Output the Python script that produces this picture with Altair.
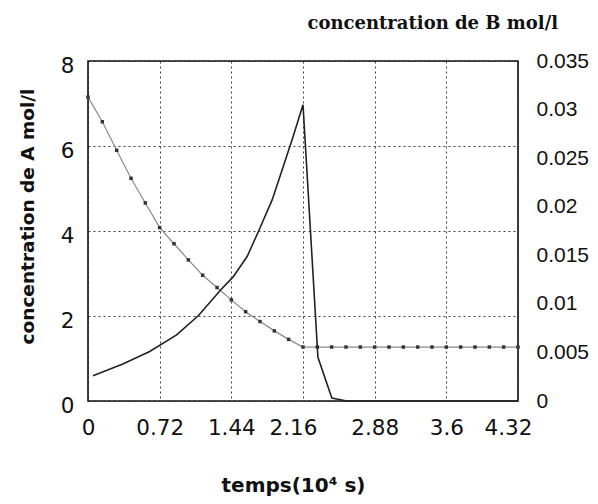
import altair as alt
import pandas as pd

# --- data ---
x_ticks = [0, 0.72, 1.44, 2.16, 2.88, 3.6, 4.32]
left_ticks = [0, 2, 4, 6, 8]
right_ticks = [0, 0.005, 0.01, 0.015, 0.02, 0.025, 0.03, 0.035]

# concentration of A (left axis), sampled every 0.144 (10^4 s)
t_A = [0.0, 0.144, 0.288, 0.432, 0.576, 0.72, 0.864, 1.008, 1.152, 1.296,
       1.44, 1.584, 1.728, 1.872, 2.016, 2.16, 2.304, 2.448, 2.592, 2.736,
       2.88, 3.024, 3.168, 3.312, 3.456, 3.6, 3.744, 3.888, 4.032, 4.176, 4.32]
conc_A = [7.15, 6.57, 5.90, 5.24, 4.66, 4.08, 3.70, 3.32, 2.96, 2.67,
          2.38, 2.10, 1.87, 1.65, 1.45, 1.27, 1.27, 1.27, 1.27, 1.27,
          1.27, 1.27, 1.27, 1.27, 1.27, 1.27, 1.27, 1.27, 1.27, 1.27, 1.27]

# concentration of B (right axis)
t_B = [0.05, 0.35, 0.62, 0.89, 1.11, 1.33, 1.46, 1.60, 1.71, 1.85, 1.96,
       2.06, 2.16, 2.31, 2.45, 2.60, 4.32]
conc_B = [0.0026, 0.0038, 0.0051, 0.0068, 0.0088, 0.0114, 0.0128, 0.0149,
          0.0174, 0.0207, 0.0241, 0.0272, 0.0305, 0.0045, 0.0003, 0.0, 0.0]

dfA = pd.DataFrame({"t": t_A, "A": conc_A})
dfB = pd.DataFrame({"t": t_B, "B": conc_B})

x_enc = alt.X("t:Q", scale=alt.Scale(domain=[0, 4.32], nice=False, zero=False),
              axis=alt.Axis(values=x_ticks, format=".3~g", title="temps(10⁴ s)",
                            labelPadding=16, ticks=False, domain=False,
                            labelFlush=False,
                            labelOffset=alt.condition(
                                "(datum.value > 2.1 && datum.value < 2.2) || datum.value > 4.3",
                                alt.value(-10), alt.value(0)),
                            grid=True, gridDash=[2, 3], gridColor="#222",
                            gridOpacity=0.85,
                            titleFont="DejaVu Sans", titleFontSize=20,
                            titleFontWeight="bold", titleX=205, titleY=90,
                            titleAlign="center", titleBaseline="alphabetic"))

lineA = alt.Chart(dfA).mark_line(
    color="#8a8a8a", strokeWidth=1.2,
    point=alt.OverlayMarkDef(shape="square", size=12, filled=True, color="#333"),
).encode(
    x=x_enc,
    y=alt.Y("A:Q", scale=alt.Scale(domain=[0, 8], nice=False),
            axis=alt.Axis(values=left_ticks, orient="left", title="concentration de A mol/l",
                          labelPadding=14, labelOffset=5, ticks=False, domain=False,
                          grid=True, gridDash=[2, 3], gridColor="#222", gridOpacity=0.85,
                          titleFont="DejaVu Sans", titleFontSize=18.5,
                          titleFontWeight="bold", titleAngle=270, titleX=-55,
                          titleY=155, titleAlign="center",
                          titleBaseline="alphabetic")),
)

lineB = alt.Chart(dfB).mark_line(color="#222", strokeWidth=1.6).encode(
    x=alt.X("t:Q"),
    y=alt.Y("B:Q", scale=alt.Scale(domain=[0, 0.035], nice=False),
            axis=alt.Axis(values=right_ticks, orient="right", format=".3~g",
                          title="concentration de B mol/l", labelPadding=18,
                          labelFont="Liberation Sans", labelFontSize=21,
                          ticks=False, domain=False, grid=False,
                          titleFont="DejaVu Serif", titleFontSize=18,
                          titleFontWeight="bold", titleAngle=0, titleX=-211,
                          titleY=-33, titleAlign="left",
                          titleBaseline="alphabetic")),
)

chart = alt.layer(lineA, lineB).resolve_scale(y="independent").properties(
    width=430, height=340,
    autosize="none",
    padding={"left": 80, "top": 53, "right": 72, "bottom": 95},
    background="white",
).configure_view(
    stroke="#111", strokeWidth=1.6,
).configure_axis(
    labelFont="DejaVu Sans", labelFontSize=21.5, labelColor="#111",
    titleColor="#111",
)

chart.save("out.html", embed_options={"renderer": "svg", "actions": False})
